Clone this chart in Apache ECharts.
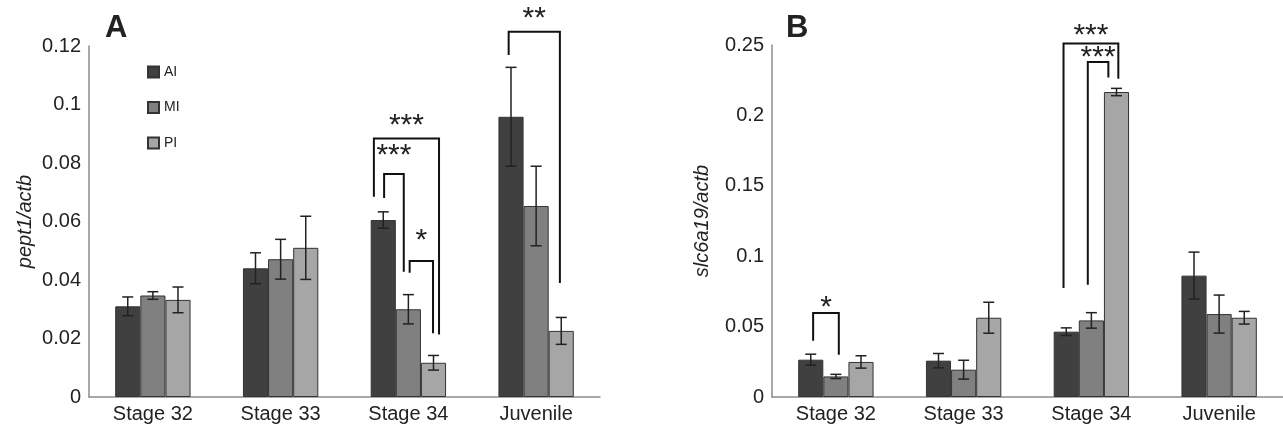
<!DOCTYPE html>
<html>
<head>
<meta charset="utf-8">
<script src="https://cdn.jsdelivr.net/npm/echarts@6/dist/echarts.min.js"></script>
<style>
html,body{margin:0;padding:0;background:#fff;}
#chart{width:1283px;height:428px;}
</style>
</head>
<body>
<div id="chart"></div>
<script>
// ---------- data ----------
const categories = ['Stage 32', 'Stage 33', 'Stage 34', 'Juvenile'];
const groups = ['AI', 'MI', 'PI'];

// Panel A: pept1/actb
const pept1AI = [0.031, 0.044, 0.0605, 0.0958];
const pept1MI = [0.0347, 0.0471, 0.030, 0.0653];
const pept1PI = [0.0332, 0.051, 0.0117, 0.0226];
const pept1AIErr = [0.0032, 0.0053, 0.0028, 0.0169];
const pept1MIErr = [0.0013, 0.0068, 0.005, 0.0136];
const pept1PIErr = [0.0044, 0.0108, 0.0025, 0.0046];

// Panel B: slc6a19/actb
const slcAI = [0.0265, 0.0258, 0.0464, 0.0862];
const slcMI = [0.0146, 0.0194, 0.0544, 0.0589];
const slcPI = [0.0249, 0.0563, 0.2166, 0.0563];
const slcAIErr = [0.0039, 0.0051, 0.0027, 0.0167];
const slcMIErr = [0.0015, 0.0067, 0.0055, 0.0135];
const slcPIErr = [0.0044, 0.011, 0.0026, 0.0045];

const pept1Ticks = { min: 0, max: 0.12, interval: 0.02 };
const slcTicks = { min: 0, max: 0.25, interval: 0.05 };

// significance brackets: [category, left leg (band units), right leg, left-leg bottom, top, right-leg bottom, star y]
const pept1Brackets = [
  [2, -0.27, 0.24, 0.0685, 0.0884, 0.0214, 0.0926],
  [2, -0.19, -0.036, 0.068, 0.0762, 0.0428, 0.0825],
  [2, 0.01, 0.193, 0.0425, 0.0465, 0.0218, 0.0533],
  [3, -0.215, 0.186, 0.1169, 0.1249, 0.039, 0.1292]
];
const pept1Stars = ['***', '***', '*', '**'];
const slcBrackets = [
  [0, -0.178, 0.023, 0.040, 0.0597, 0.030, 0.0634],
  [2, -0.218, 0.211, 0.0774, 0.2511, 0.2261, 0.2568],
  [2, -0.028, 0.133, 0.0798, 0.2379, 0.227, 0.2408]
];
const slcStars = ['*', '***', '***'];

// ---------- styling ----------
const FONT = "'Liberation Sans', Arial, Helvetica, sans-serif";
const colors = ['#404040', '#808080', '#a6a6a6'];
const CAT_GAP = 0.41;

function errRender(groupIdx) {
  return function (params, api) {
    const c = api.value(0), m = api.value(1), e = api.value(2);
    const band = api.size([1, 0])[0];
    const bw = band * (1 - CAT_GAP) / 3;
    const x = api.coord([c, m])[0] + (groupIdx - 1) * bw;
    const yHi = api.coord([c, m + e])[1];
    const yLo = api.coord([c, m - e])[1];
    const cap = 5.5;
    const st = { stroke: '#222', lineWidth: 1.5 };
    return {
      type: 'group',
      children: [
        { type: 'line', shape: { x1: x, y1: yHi, x2: x, y2: yLo }, style: st },
        { type: 'line', shape: { x1: x - cap, y1: yHi, x2: x + cap, y2: yHi }, style: st },
        { type: 'line', shape: { x1: x - cap, y1: yLo, x2: x + cap, y2: yLo }, style: st }
      ]
    };
  };
}

function bracketRender(stars) {
  return function (params, api) {
    const c = api.value(0);
    const band = api.size([1, 0])[0];
    const cx = api.coord([c, 0])[0];
    const xL = cx + api.value(1) * band;
    const xR = cx + api.value(2) * band;
    const yLB = api.coord([c, api.value(3)])[1];
    const yT = api.coord([c, api.value(4)])[1];
    const yRB = api.coord([c, api.value(5)])[1];
    const yS = api.coord([c, api.value(6)])[1];
    return {
      type: 'group',
      children: [
        { type: 'polyline', shape: { points: [[xL, yLB], [xL, yT], [xR, yT], [xR, yRB]] },
          style: { stroke: '#111', lineWidth: 2, fill: null } },
        { type: 'text', x: (xL + xR) / 2, y: yS,
          style: { text: stars[params.dataIndex], font: '30px ' + FONT, fill: '#222',
                   align: 'center', verticalAlign: 'middle' } }
      ]
    };
  };
}

function zip(vals, errs) { return vals.map((v, i) => [i, v, errs[i]]); }

function panelSeries(axisIdx, vals, errs, brackets, stars) {
  const out = [];
  vals.forEach((arr, g) => {
    out.push({
      name: groups[g], type: 'bar', xAxisIndex: axisIdx, yAxisIndex: axisIdx,
      data: arr, barGap: '0%', barCategoryGap: (CAT_GAP * 100) + '%',
      itemStyle: { color: colors[g], borderColor: '#333', borderWidth: 1 }
    });
  });
  vals.forEach((arr, g) => {
    out.push({
      name: 'err' + axisIdx + g, type: 'custom', xAxisIndex: axisIdx, yAxisIndex: axisIdx,
      renderItem: errRender(g), data: zip(arr, errs[g]), encode: { x: 0, y: 1 }, z: 5
    });
  });
  out.push({
    name: 'sig' + axisIdx, type: 'custom', xAxisIndex: axisIdx, yAxisIndex: axisIdx,
    renderItem: bracketRender(stars), data: brackets, encode: { x: 0, y: 4 }, z: 6, clip: false
  });
  return out;
}

function xAxisDef(gridIndex) {
  return {
    type: 'category', gridIndex: gridIndex, data: categories,
    axisLine: { lineStyle: { color: '#8c8c8c', width: 1.5 } },
    axisTick: { show: false },
    axisLabel: { color: '#222', fontSize: 20, fontFamily: FONT, margin: 7 }
  };
}
function yAxisDef(gridIndex, ticks, name, gap) {
  return {
    type: 'value', gridIndex: gridIndex, min: ticks.min, max: ticks.max, interval: ticks.interval,
    name: name, nameLocation: 'middle', nameGap: gap,
    nameTextStyle: { fontStyle: 'italic', fontSize: 20, fontFamily: FONT, color: '#222' },
    axisLine: { show: true, lineStyle: { color: '#8c8c8c', width: 1.5 } },
    axisTick: { show: false },
    splitLine: { show: false },
    axisLabel: { color: '#222', fontSize: 20, fontFamily: FONT, margin: 8 }
  };
}

const option = {
  animation: false,
  backgroundColor: '#fff',
  title: [
    { text: 'A', left: 100, top: 8, textStyle: { fontSize: 31, fontWeight: 'bold', fontFamily: FONT, color: '#222' } },
    { text: 'B', left: 781, top: 8, textStyle: { fontSize: 31, fontWeight: 'bold', fontFamily: FONT, color: '#222' } }
  ],
  legend: {
    data: groups, orient: 'vertical', left: 147, top: 65, padding: 0,
    itemWidth: 11, itemHeight: 11, itemGap: 21.5, icon: 'rect',
    textStyle: { fontSize: 14, fontFamily: FONT, color: '#222' }
  },
  grid: [
    { left: 89, top: 46, width: 511, height: 351 },
    { left: 772, top: 45, width: 511, height: 352 }
  ],
  xAxis: [xAxisDef(0), xAxisDef(1)],
  yAxis: [yAxisDef(0, pept1Ticks, 'pept1/actb', 54), yAxisDef(1, slcTicks, 'slc6a19/actb', 60)],
  series: [].concat(
    panelSeries(0, [pept1AI, pept1MI, pept1PI], [pept1AIErr, pept1MIErr, pept1PIErr], pept1Brackets, pept1Stars),
    panelSeries(1, [slcAI, slcMI, slcPI], [slcAIErr, slcMIErr, slcPIErr], slcBrackets, slcStars)
  )
};

const chart = echarts.init(document.getElementById('chart'), null, { renderer: 'canvas' });
chart.setOption(option);
</script>
</body>
</html>
